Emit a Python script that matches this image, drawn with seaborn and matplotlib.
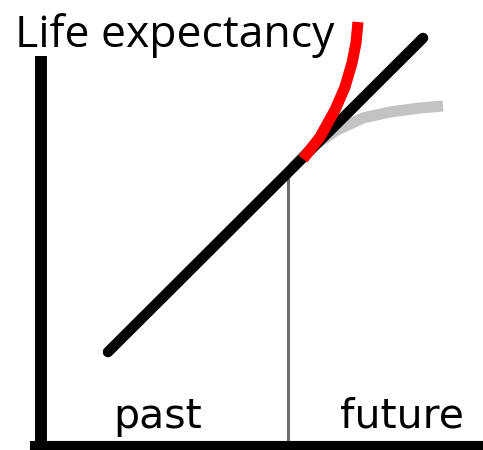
import matplotlib
matplotlib.use("Agg")
import matplotlib.pyplot as plt
import seaborn as sns

# schematic values, arbitrary units (time on x, life expectancy on y)
trend_time = [67, 382]
trend_life = [94, 408]

fast_time = [262, 279, 294, 304, 311, 315, 317]
fast_life = [287, 309, 336, 359, 383, 403, 424]

slow_time = [251, 272, 296, 322, 349, 379, 402]
slow_life = [278, 300, 316, 328, 334, 338, 340]

today_time = [247, 247]
today_life = [0, 276]

ylabel_text = "Life expectancy"
period_labels = ["past", "future"]
period_pos = [72, 299]

sns.set_style("white")
plt.rcParams["font.family"] = ["Open Sans", "DejaVu Sans"]

fig = plt.figure(figsize=(4.83, 4.5), dpi=100)
ax = fig.add_axes([0, 0, 1, 1])

sns.lineplot(x=slow_time, y=slow_life, ax=ax, color="#c3c3c3", linewidth=8,
             sort=False, estimator=None, solid_capstyle="butt",
             solid_joinstyle="round", zorder=2)
sns.lineplot(x=trend_time, y=trend_life, ax=ax, color="black", linewidth=7.6,
             sort=False, estimator=None, solid_capstyle="round", zorder=3)
sns.lineplot(x=fast_time, y=fast_life, ax=ax, color="#ff0000", linewidth=8,
             sort=False, estimator=None, solid_capstyle="butt",
             solid_joinstyle="round", zorder=4)
sns.lineplot(x=today_time, y=today_life, ax=ax, color="#6e6e6e", linewidth=2.2,
             sort=False, estimator=None, zorder=1)

ax.set_xlim(-41, 442)
ax.set_ylim(-4, 446)

for side in ["top", "right"]:
    ax.spines[side].set_visible(False)
ax.spines["left"].set_position(("data", 0))
ax.spines["left"].set_bounds(-4, 384)
ax.spines["left"].set_linewidth(8.6)
ax.spines["left"].set_color("black")
ax.spines["bottom"].set_position(("data", 0))
ax.spines["bottom"].set_bounds(-6, 442)
ax.spines["bottom"].set_linewidth(8.0)
ax.spines["bottom"].set_color("black")
ax.set_xticks([])
ax.set_yticks([])
ax.set_xlabel("")
ax.set_ylabel("")

ax.text(-26, 399, ylabel_text, fontsize=32, color="black",
        ha="left", va="baseline")
for lab, xp in zip(period_labels, period_pos):
    ax.text(xp, 18, lab, fontsize=29.5, color="black", family="DejaVu Sans",
            ha="left", va="baseline")

fig.savefig("out.png", dpi=100)
